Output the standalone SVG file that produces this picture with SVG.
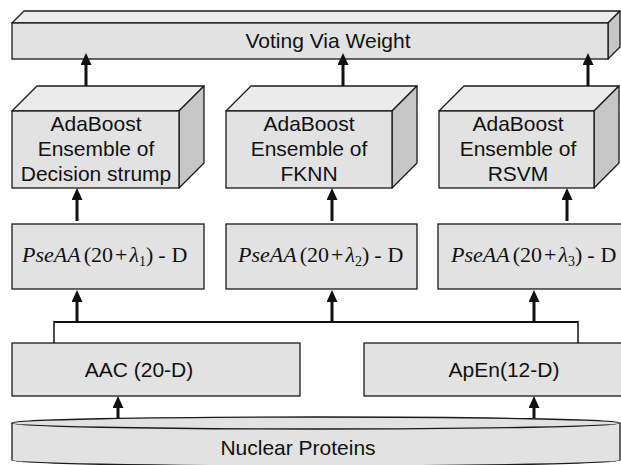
<svg xmlns="http://www.w3.org/2000/svg" width="621" height="465" viewBox="0 0 621 465">
<style>
.front{fill:#e2e2e2;stroke:#1a1a1a;stroke-width:1.3}
.top{fill:#ebebeb;stroke:#1a1a1a;stroke-width:1.3;stroke-linejoin:round}
.side{fill:#c6c6c6;stroke:#1a1a1a;stroke-width:1.3;stroke-linejoin:round}
.lbl{font-family:"Liberation Sans",Arial,sans-serif;font-size:21px;fill:#111;text-anchor:middle}
.math{font-family:"Liberation Serif","Times New Roman",serif;font-size:22px;fill:#111}
.arr{stroke:#111;stroke-width:3;fill:none;marker-end:url(#ah)}
.bus{stroke:#111;fill:none}
</style>
<defs>
<marker id="ah" markerUnits="userSpaceOnUse" viewBox="0 0 12 11" markerWidth="12" markerHeight="11" refX="0" refY="5.5" orient="auto">
<path d="M0,0 L12,5.5 L0,11 Z" fill="#111"/>
</marker>
</defs>
<rect width="621" height="465" fill="#fff"/>

<g id="voting">
<polygon class="top" points="12,23 24,11 620,11 608,23"/>
<polygon class="side" points="608,23 620,11 620,47 608,59"/>
<rect class="front" x="12" y="23" width="596" height="36"/>
<text class="lbl" x="328" y="48">Voting Via Weight</text>
</g>

<g id="ada1">
<polygon class="top" points="12,111 37,86 204,86 179,111"/>
<polygon class="side" points="179,111 204,86 204,163 179,188"/>
<rect class="front" x="12" y="111" width="167" height="77"/>
<text class="lbl" x="96" y="131">AdaBoost</text>
<text class="lbl" x="96" y="156">Ensemble of</text>
<text class="lbl" x="96" y="181">Decision strump</text>
</g>

<g id="ada2">
<polygon class="top" points="226,111 251,86 417,86 392,111"/>
<polygon class="side" points="392,111 417,86 417,163 392,188"/>
<rect class="front" x="226" y="111" width="166" height="77"/>
<text class="lbl" x="309" y="131">AdaBoost</text>
<text class="lbl" x="309" y="156">Ensemble of</text>
<text class="lbl" x="309" y="181">FKNN</text>
</g>

<g id="ada3">
<polygon class="top" points="439,111 464,86 619,86 594,111"/>
<polygon class="side" points="594,111 619,86 619,163 594,188"/>
<rect class="front" x="439" y="111" width="155" height="77"/>
<text class="lbl" x="518" y="131">AdaBoost</text>
<text class="lbl" x="518" y="156">Ensemble of</text>
<text class="lbl" x="518" y="181">RSVM</text>
</g>

<g id="pse1">
<rect class="front" x="12" y="224" width="192" height="65"/>
<text class="math" x="22" y="262"><tspan font-style="italic">PseAA</tspan><tspan dx="3">(20</tspan><tspan dx="2">+</tspan><tspan dx="2" font-style="italic">λ</tspan><tspan font-size="14" dy="4">1</tspan><tspan dy="-4">)</tspan><tspan dx="5">-</tspan><tspan dx="6">D</tspan></text>
</g>

<g id="pse2">
<rect class="front" x="226" y="224" width="191" height="65"/>
<text class="math" x="238" y="262"><tspan font-style="italic">PseAA</tspan><tspan dx="3">(20</tspan><tspan dx="2">+</tspan><tspan dx="2" font-style="italic">λ</tspan><tspan font-size="14" dy="4">2</tspan><tspan dy="-4">)</tspan><tspan dx="5">-</tspan><tspan dx="6">D</tspan></text>
</g>

<g id="pse3">
<rect class="front" x="438" y="224" width="190" height="65"/>
<text class="math" x="451" y="262"><tspan font-style="italic">PseAA</tspan><tspan dx="3">(20</tspan><tspan dx="2">+</tspan><tspan dx="2" font-style="italic">λ</tspan><tspan font-size="14" dy="4">3</tspan><tspan dy="-4">)</tspan><tspan dx="5">-</tspan><tspan dx="6">D</tspan></text>
</g>

<g id="aac">
<rect class="front" x="12" y="343" width="288" height="53"/>
<text class="lbl" x="139" y="377">AAC (20-D)</text>
</g>

<g id="apen">
<rect class="front" x="364" y="343" width="262" height="53"/>
<text class="lbl" x="504" y="377">ApEn(12-D)</text>
</g>

<g id="proteins">
<path d="M12,423 A304,6 0 0 1 620,423 L620,460 A304,6 0 0 1 12,460 Z" fill="#e2e2e2" stroke="#1a1a1a" stroke-width="1.3"/>
<path d="M12,423 A304,6 0 0 0 620,423" fill="none" stroke="#1a1a1a" stroke-width="1.3"/>
<text class="lbl" x="298" y="455">Nuclear Proteins</text>
</g>

<g id="connectors">
<line class="arr" x1="86" y1="86" x2="86" y2="65"/>
<line class="arr" x1="343" y1="86" x2="343" y2="65"/>
<line class="arr" x1="588" y1="86" x2="588" y2="65"/>
<line class="arr" x1="77" y1="221" x2="77" y2="200"/>
<line class="arr" x1="332" y1="221" x2="332" y2="200"/>
<line class="arr" x1="567" y1="221" x2="567" y2="200"/>
<line class="arr" x1="77" y1="322" x2="77" y2="302"/>
<line class="arr" x1="332" y1="322" x2="332" y2="302"/>
<line class="arr" x1="534" y1="322" x2="534" y2="302"/>
<line class="arr" x1="118" y1="418" x2="118" y2="408"/>
<line class="arr" x1="534" y1="418" x2="534" y2="408"/>
<path class="bus" stroke-width="2.2" d="M54,322 H578"/>
<path class="bus" stroke-width="1.5" d="M54,321 V343 M578,321 V343"/>
</g>
</svg>
